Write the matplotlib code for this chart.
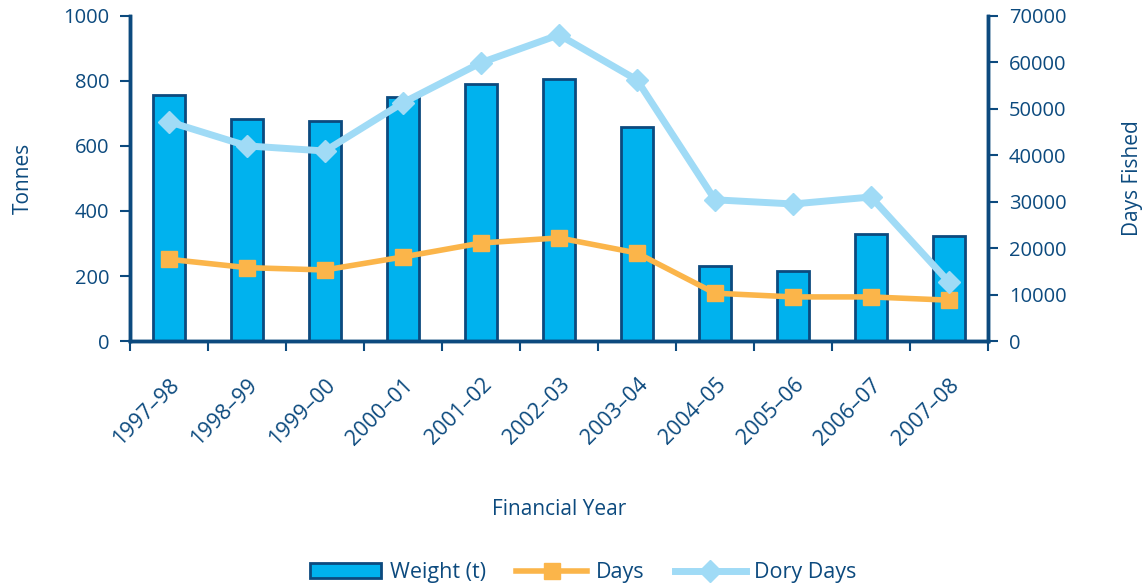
#!/usr/bin/env python3

import numpy as np
import matplotlib
matplotlib.use('Agg')
import matplotlib.pyplot as plt
import matplotlib.transforms as mtransforms

years = ['1997–98', '1998–99', '1999–00', '2000–01', '2001–02', '2002–03',
         '2003–04', '2004–05', '2005–06', '2006–07', '2007–08']
weight_t = [757, 683, 677, 751, 791, 806, 658, 231, 215, 329, 323]
days = [17600, 15800, 15300, 18100, 21100, 22200, 18950, 10300, 9500, 9500, 8800]
dory_days = [47200, 42000, 40900, 51300, 59900, 65900, 56200, 30400, 29500, 31000, 12700]

navy = '#0C4A7E'
plt.rcParams['font.family'] = ['Open Sans', 'DejaVu Sans']

fig = plt.figure(figsize=(11.44, 5.85), dpi=100)
ax = fig.add_axes([0.1136, 0.417, 0.75, 0.556])
ax2 = ax.twinx()

x = np.arange(len(years))
bars = ax.bar(x, weight_t, width=0.4, color='#00B2EE', edgecolor=navy,
              linewidth=2, label='Weight (t)', zorder=2)
l1, = ax2.plot(x, days, color='#FBB54A', lw=4, marker='s', markersize=12,
               label='Days', zorder=3)
l2, = ax2.plot(x, dory_days, color='#A0DBF6', lw=5, marker='D', markersize=11,
               label='Dory Days', zorder=3)

ax.set_xlim(-0.5, len(years) - 0.5)
ax.set_ylim(0, 1000)
ax2.set_ylim(0, 70000)
ax.set_yticks(range(0, 1001, 200))
ax2.set_yticks(range(0, 70001, 10000))

# category boundaries get the tick marks, labels sit at the centres
ax.set_xticks(np.arange(-0.5, len(years)), minor=False)
ax.set_xticklabels([])
ax.set_xticks(x, minor=True)
ax.set_xticklabels(years, minor=True, rotation=45, ha='right',
                   rotation_mode='anchor', fontsize=15.5, color=navy)
shift = mtransforms.ScaledTranslation(-0.2, 0, fig.dpi_scale_trans)
for lbl in ax.get_xticklabels(minor=True):
    lbl.set_transform(lbl.get_transform() + shift)
ax.tick_params(axis='x', which='minor', length=0, pad=24)
ax.tick_params(axis='x', which='major', length=7, width=1.5, color=navy)
ax.tick_params(axis='y', length=7, width=1.5, color=navy, labelcolor=navy,
               labelsize=14.5, pad=8)
ax2.tick_params(axis='y', length=7, width=1.5, color=navy, labelcolor=navy,
                labelsize=14.5, pad=8)

for a in (ax, ax2):
    a.spines['top'].set_visible(False)
    for s in ('left', 'right', 'bottom'):
        a.spines[s].set_color(navy)
        a.spines[s].set_linewidth(2.5)

ax.set_ylabel('Tonnes', fontsize=15, color=navy, labelpad=21)
ax2.set_ylabel('Days Fished', fontsize=15, color=navy, labelpad=40)
ax.set_xlabel('Financial Year', fontsize=15, color=navy, labelpad=36)

leg = fig.legend([bars, l1, l2], ['Weight (t)', 'Days', 'Dory Days'],
                 loc='lower center', bbox_to_anchor=(0.51, -0.03), ncol=3,
                 frameon=False, fontsize=15.5, handlelength=3.3,
                 handletextpad=0.4, columnspacing=1.4)
for t in leg.get_texts():
    t.set_color(navy)

fig.savefig('out.png', dpi=100)
